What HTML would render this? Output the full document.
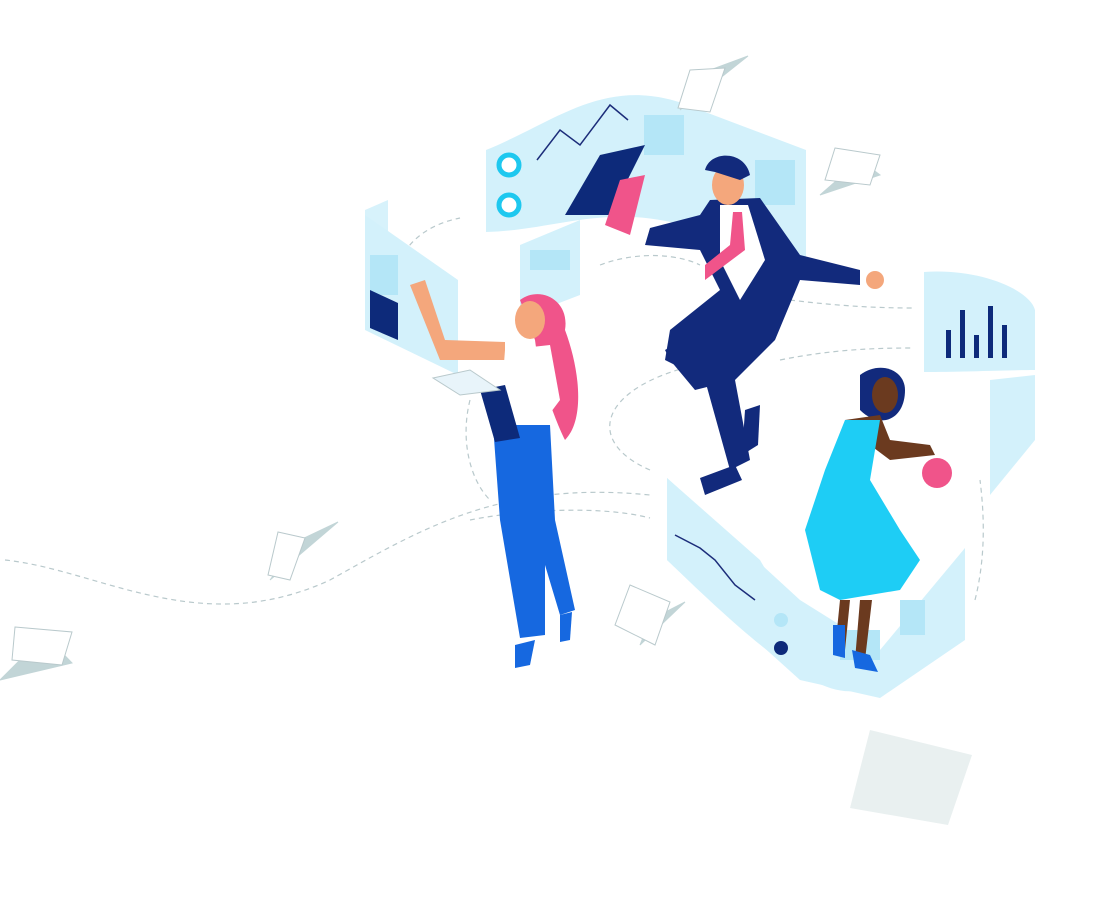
<!DOCTYPE html>
<html><head><meta charset="utf-8"><style>html,body{margin:0;padding:0;background:#fff}svg{display:block}</style></head>
<body>
<svg width="1105" height="916" viewBox="0 0 1105 916" xmlns="http://www.w3.org/2000/svg">
<g fill="none" stroke="#b9c9cc" stroke-width="1.2" stroke-dasharray="5 4">
<path d="M5 560 C100 570 200 640 330 580 C420 530 500 480 650 495"/>
<path d="M470 520 C520 510 600 505 650 518"/>
<path d="M410 320 C380 280 400 230 460 218"/>
<path d="M600 265 C640 250 680 255 700 265"/>
<path d="M790 300 C830 305 870 308 912 308"/>
<path d="M780 360 C830 350 870 348 912 348"/>
<path d="M650 470 C580 440 600 380 720 360"/>
<path d="M470 400 C460 440 470 480 490 500"/>
<path d="M975 600 C985 560 985 520 980 480"/>
</g>
<!-- panels -->
<g fill="#d3f1fb">
<path d="M486 150 C560 120 610 70 700 110 L806 150 L806 268 L700 230 C610 200 560 230 486 232 Z"/>
<path d="M365 210 L388 200 L388 330 L458 360 L458 345 L365 320 Z" opacity="0.9"/>
<path d="M365 215 L458 280 L458 375 L365 330 Z"/>
<path d="M520 245 L580 220 L580 295 L520 318 Z"/>
<path d="M924 272 C980 268 1030 290 1035 310 L1035 375 L990 380 L990 495 L1035 440 L1035 370 C1010 370 960 372 924 372 Z"/>
<path d="M667 478 L760 560 C800 630 840 650 880 650 L965 600 L965 548 C940 600 900 660 860 690 C820 700 760 650 667 560 Z"/>
<path d="M667 478 L800 600 L880 650 L965 548 L965 640 L880 698 L800 680 L667 560 Z"/>
</g>
<g fill="#b4e6f7">
<rect x="644" y="115" width="40" height="40"/><rect x="370" y="255" width="28" height="40"/>
<rect x="530" y="250" width="40" height="20"/><rect x="755" y="160" width="40" height="45"/>
<rect x="840" y="630" width="40" height="30"/><rect x="900" y="600" width="25" height="35"/>
</g>
<path d="M370 290 L398 303 L398 340 L370 328 Z" fill="#0d2a7a"/>
<path d="M537 160 L560 130 L580 145 L610 105 L628 120" fill="none" stroke="#1c2d7a" stroke-width="1.5"/>
<path d="M675 535 L700 548 L715 560 L735 585 L755 600" fill="none" stroke="#1c2d7a" stroke-width="1.5"/>
<circle cx="509" cy="165" r="10" fill="#fff" stroke="#1ec8ef" stroke-width="5"/>
<circle cx="509" cy="205" r="10" fill="#fff" stroke="#1ec8ef" stroke-width="5"/>
<circle cx="781" cy="648" r="7" fill="#0d2a7a"/><circle cx="781" cy="620" r="7" fill="#b4e6f7"/>
<g fill="#0d2a7a"><rect x="946" y="330" width="5" height="28"/><rect x="960" y="310" width="5" height="48"/><rect x="974" y="335" width="5" height="23"/><rect x="988" y="306" width="5" height="52"/><rect x="1002" y="325" width="5" height="33"/></g>
<!-- paper planes -->
<g fill="#c2d5d7" stroke="#c2d5d7">
<path d="M0 680 L72 663 L45 635 Z"/><path d="M270 580 L338 522 L300 540 Z"/>
<path d="M640 645 L685 602 L650 620 Z"/><path d="M680 110 L748 56 L710 70 Z"/>
<path d="M820 195 L880 175 L860 160 Z"/>
</g>
<g fill="#fff" stroke="#b9c9cc">
<path d="M15 627 L72 632 L62 665 L12 660 Z"/><path d="M278 532 L305 538 L290 580 L268 575 Z"/>
<path d="M630 585 L670 602 L655 645 L615 625 Z"/><path d="M690 70 L725 68 L710 112 L678 108 Z"/>
<path d="M835 148 L880 155 L870 185 L825 180 Z"/>
</g>
<path d="M870 730 L972 755 L948 825 L850 808 Z" fill="#e9f0f0"/>
<!-- man -->
<path d="M565 215 L600 155 L645 145 L610 215 Z" fill="#0d2a7a"/>
<path d="M620 180 L645 175 L630 235 L605 225 Z" fill="#f0548a"/>
<path d="M710 200 L760 198 L800 255 L860 270 L860 285 L800 280 L775 340 L735 380 L750 460 L730 470 L705 380 L665 360 L670 330 L720 290 L700 250 L645 245 L650 228 L700 215 Z" fill="#122a7c"/>
<path d="M735 380 L695 390 L670 360 L665 350 L700 330 Z" fill="#122a7c"/>
<path d="M700 478 L735 465 L742 480 L705 495 Z" fill="#122a7c"/>
<path d="M745 410 L760 405 L758 445 L742 455 Z" fill="#122a7c"/>
<path d="M720 205 L748 205 L765 260 L740 300 L720 260 Z" fill="#fff"/>
<path d="M733 212 L742 212 L745 250 L705 280 L705 265 L730 245 Z" fill="#f0548a"/>
<ellipse cx="728" cy="185" rx="16" ry="20" fill="#f4a77c"/>
<path d="M705 170 C710 150 745 150 750 175 L740 180 L715 172 Z" fill="#122a7c"/>
<circle cx="875" cy="280" r="9" fill="#f4a77c"/>
<!-- pink woman -->
<path d="M520 300 C540 285 570 300 565 330 C580 370 585 420 565 440 C555 420 540 380 535 340 Z" fill="#f0548a"/>
<ellipse cx="530" cy="320" rx="15" ry="19" fill="#f4a77c"/>
<path d="M410 285 L425 280 L445 340 L505 342 L505 360 L440 360 Z" fill="#f4a77c"/>
<path d="M505 350 L550 345 L560 400 L545 420 L500 415 Z" fill="#fff"/>
<path d="M493 425 L550 425 L555 520 L575 610 L560 615 L545 565 L545 635 L520 638 L500 520 Z" fill="#1668e0"/>
<path d="M480 390 L505 385 L520 438 L495 442 Z" fill="#0d2a7a"/>
<path d="M433 378 L470 370 L500 390 L460 395 Z" fill="#e8f4fa" stroke="#b9c9cc"/>
<path d="M515 645 L535 640 L530 665 L515 668 Z" fill="#1668e0"/>
<path d="M560 615 L572 612 L570 640 L560 642 Z" fill="#1668e0"/>
<!-- cyan woman -->
<path d="M860 375 C880 360 905 370 905 390 C905 420 880 430 860 410 Z" fill="#122a7c"/>
<ellipse cx="885" cy="395" rx="13" ry="18" fill="#6b3a1f"/>
<path d="M845 420 L880 415 L890 440 L930 445 L935 455 L890 460 L870 445 Z" fill="#6b3a1f"/>
<path d="M845 420 L880 420 L870 480 L900 530 L920 560 L900 590 L840 600 L820 590 L805 530 L825 470 Z" fill="#1ecdf5"/>
<path d="M840 600 L850 600 L845 650 L835 650 Z M860 600 L872 600 L865 660 L855 660 Z" fill="#6b3a1f"/>
<path d="M833 625 L845 625 L845 658 L833 655 Z M852 650 L870 655 L878 672 L855 668 Z" fill="#1668e0"/>
<circle cx="937" cy="473" r="15" fill="#f0548a"/>
</svg>
</body></html>
